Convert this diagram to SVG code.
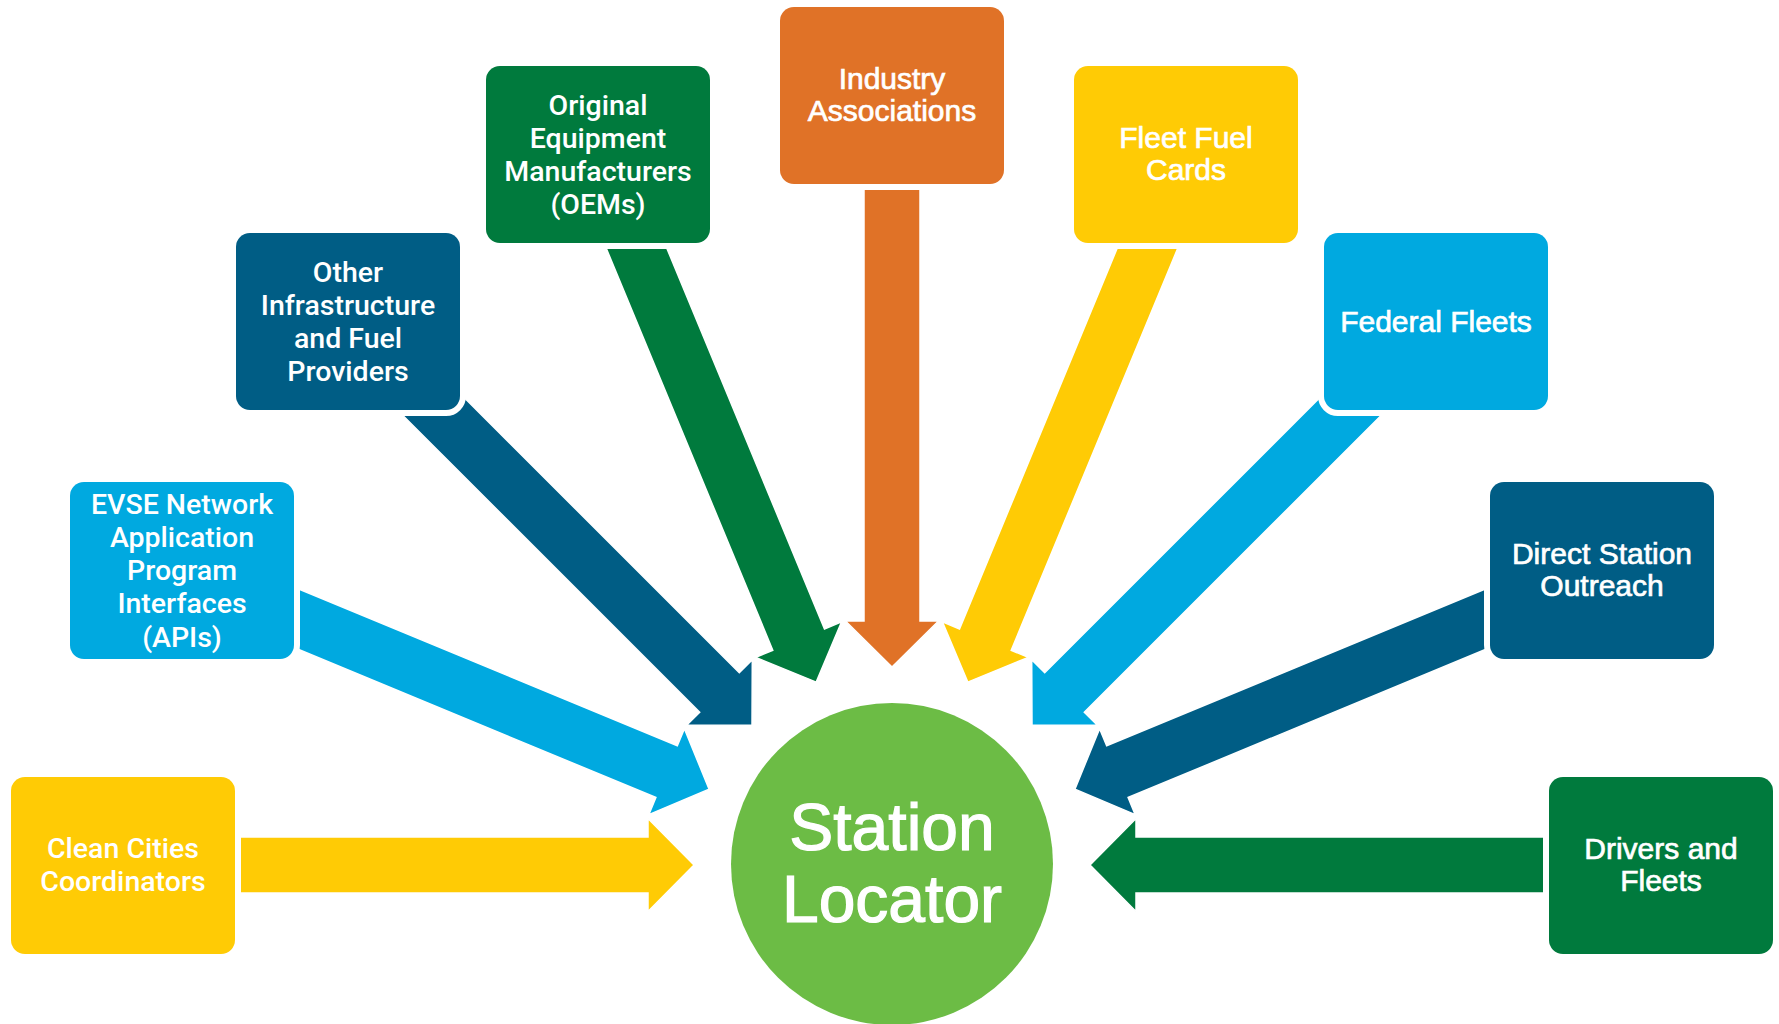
<svg xmlns="http://www.w3.org/2000/svg" width="1779" height="1024" viewBox="0 0 1779 1024">
<style>
.box{stroke:#fff;stroke-width:12;paint-order:stroke}
.arr{stroke:#fff;stroke-width:1.5;stroke-linejoin:miter}
.yel{fill:#FFCB05}.lb{fill:#00A9E0}.db{fill:#005D85}.gr{fill:#007A3D}.or{fill:#E07227}
.tl{font-family:Roboto,"Liberation Sans",sans-serif;font-size:28.5px;font-weight:500;fill:#fff;text-anchor:middle}
.tr{font-family:"Liberation Sans",Arial,sans-serif;font-size:30px;fill:#fff;stroke:#fff;stroke-width:0.7;text-anchor:middle}
.tc{font-family:"Liberation Sans",Arial,sans-serif;font-size:66px;fill:#fff;stroke:#fff;stroke-width:1.2;text-anchor:middle}
</style>
<rect width="1779" height="1024" fill="#fff"/>
<g id="connectors">
<polygon class="arr yel" points="225,837 648,837 648,818.5 694,865 648,911.5 648,893 225,893"/>
<polygon class="arr lb" points="280,581.2 677.3,745.8 684.4,728.7 709.1,789.2 648.8,814.6 655.9,797.5 280,641.8"/>
<polygon class="arr db" points="446.6,380 739.3,672.7 752.3,659.6 752,725 686.6,725.3 699.7,712.3 367.4,380"/>
<polygon class="arr gr" points="596.6,225 772.8,650.3 755.7,657.4 816.2,682.1 841.6,621.8 824.5,628.9 657.2,225"/>
<polygon class="arr or" points="864,170 864,621 845.5,621 892,667 938.5,621 920,621 920,170"/>
<polygon class="arr yel" points="1187.4,225 1011.2,650.3 1028.3,657.4 967.8,682.1 942.4,621.8 959.5,628.9 1126.8,225"/>
<polygon class="arr lb" points="1337.4,380 1044.7,672.7 1031.7,659.6 1032,725 1097.4,725.3 1084.3,712.3 1416.6,380"/>
<polygon class="arr db" points="1504,581.2 1106.7,745.8 1099.6,728.7 1074.9,789.2 1135.2,814.6 1128.1,797.5 1504,641.8"/>
<polygon class="arr gr" points="1559,837 1136,837 1136,818.5 1090,865 1136,911.5 1136,893 1559,893"/>
</g>
<g id="node-clean-cities">
<rect class="box yel" x="11" y="777" width="224" height="177" rx="14"/>
<text class="tl" x="123" y="858">Clean Cities</text>
<text class="tl" x="123" y="891">Coordinators</text>
</g>
<g id="node-evse">
<rect class="box lb" x="70" y="482" width="224" height="177" rx="14"/>
<text class="tl" x="182" y="513.5">EVSE Network</text>
<text class="tl" x="182" y="546.8">Application</text>
<text class="tl" x="182" y="580.1">Program</text>
<text class="tl" x="182" y="613.4">Interfaces</text>
<text class="tl" x="182" y="646.7">(APIs)</text>
</g>
<g id="node-other-infrastructure">
<rect class="box db" x="236" y="233" width="224" height="177" rx="14"/>
<text class="tl" x="348" y="281.5">Other</text>
<text class="tl" x="348" y="314.8">Infrastructure</text>
<text class="tl" x="348" y="348.1">and Fuel</text>
<text class="tl" x="348" y="381.4">Providers</text>
</g>
<g id="node-oems">
<rect class="box gr" x="486" y="66" width="224" height="177" rx="14"/>
<text class="tl" x="598" y="114.5">Original</text>
<text class="tl" x="598" y="147.8">Equipment</text>
<text class="tl" x="598" y="181.1">Manufacturers</text>
<text class="tl" x="598" y="214.4">(OEMs)</text>
</g>
<g id="node-industry">
<rect class="box or" x="780" y="7" width="224" height="177" rx="14"/>
<text class="tr" x="892" y="89">Industry</text>
<text class="tr" x="892" y="121.4">Associations</text>
</g>
<g id="node-fleet-fuel-cards">
<rect class="box yel" x="1074" y="66" width="224" height="177" rx="14"/>
<text class="tr" x="1186" y="148">Fleet Fuel</text>
<text class="tr" x="1186" y="180.4">Cards</text>
</g>
<g id="node-federal-fleets">
<rect class="box lb" x="1324" y="233" width="224" height="177" rx="14"/>
<text class="tr" x="1436" y="331.5">Federal Fleets</text>
</g>
<g id="node-direct-station">
<rect class="box db" x="1490" y="482" width="224" height="177" rx="14"/>
<text class="tr" x="1602" y="564">Direct Station</text>
<text class="tr" x="1602" y="596.4">Outreach</text>
</g>
<g id="node-drivers-fleets">
<rect class="box gr" x="1549" y="777" width="224" height="177" rx="14"/>
<text class="tr" x="1661" y="859">Drivers and</text>
<text class="tr" x="1661" y="891.4">Fleets</text>
</g>
<g id="node-station-locator">
<circle cx="892" cy="864" r="161" fill="#6CBC45"/>
<text class="tc" x="892" y="850">Station</text>
<text class="tc" x="892" y="922">Locator</text>
</g>
</svg>
